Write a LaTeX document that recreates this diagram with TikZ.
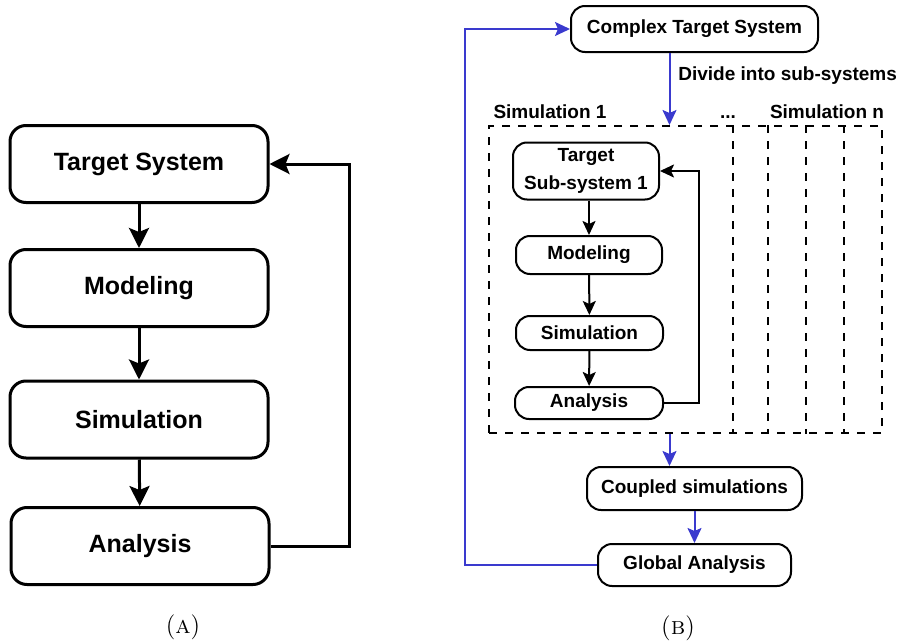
\documentclass[tikz,border=0pt]{standalone}
\usepackage{fontspec}
\newfontfamily\boxfont{Liberation Sans}
\usetikzlibrary{positioning, arrows.meta, calc}
\definecolor{flowblue}{RGB}{58,58,206}
\tikzset{
        big-step/.style={
            draw, rounded corners=8pt, line width=1.5pt, inner sep=0pt,
            minimum width=129pt, minimum height=38.5pt,
            font=\boxfont\bfseries\fontsize{12.5}{15}\selectfont
        },
        small-step/.style={
            draw, rounded corners=7pt, line width=1pt, inner sep=0pt, align=center,
            font=\boxfont\bfseries\fontsize{9.5}{14}\selectfont
        },
        plain-label/.style={inner sep=0pt, font=\boxfont\bfseries\fontsize{9.5}{12}\selectfont},
        big-flow/.style={line width=1.5pt, -{Stealth[length=10pt, width=10pt, inset=2pt]}},
        small-flow/.style={line width=1pt, -{Stealth[length=7pt, width=6.5pt, inset=1.5pt]}},
        blue-flow/.style={flowblue, line width=1pt, -{Stealth[length=7.5pt, width=7pt, inset=1.5pt]}},
        sim-frame/.style={draw, line width=1pt, dash pattern=on 4pt off 4pt, inner sep=0pt},
}
\begin{document}
\begin{tikzpicture}[x=0.5pt, y=-0.5pt]
        \useasboundingbox (0,0) rectangle (902,643);

        % (A) SINGLE SIMULATION LOOP
        \node[big-step] (TGT) at (139,164)   {Target System};
        \node[big-step] (MOD) at (139,288)   {Modeling};
        \node[big-step] (SIM) at (139,419.5) {Simulation};
        \node[big-step] (ANA) at (140,546)   {Analysis};
        \coordinate     (FBA) at (349,0);
        \node[]         (CAPA) at (183,627)  {\fontsize{12.5}{14}\selectfont (\textsc{a})};

        \draw [big-flow] (TGT) -- (MOD);
        \draw [big-flow] (MOD) -- (SIM);
        \draw [big-flow] (SIM) -- (ANA);
        \draw [big-flow] (ANA.east) -- (ANA.east -| FBA) |- (TGT.east);

        % (B) COUPLED SIMULATIONS
        \node[small-step, minimum width=123.5pt, minimum height=23pt] (CTS) at (694.5,29)  {Complex Target System};
        \node[plain-label, anchor=base west] (DIV) at (678,80)   {Divide into sub-systems};
        \node[sim-frame, minimum width=196.5pt, minimum height=153.5pt] (FRAME) at (685.5,279.5) {};
        \node[plain-label, anchor=base] (SIM1) at (550,118)     {Simulation 1};
        \node[plain-label, anchor=base] (DOTS) at (728,118)     {...};
        \node[plain-label, anchor=base] (SIMN) at (827,118)     {Simulation n};

        \node[small-step, minimum width=73pt, minimum height=28.5pt] (TSS)  at (586,171)   {Target\\Sub-system 1};
        \node[small-step, minimum width=73pt, minimum height=19pt]   (SMOD) at (589,255)   {Modeling};
        \node[small-step, minimum width=73.5pt, minimum height=17pt] (SSIM) at (589.5,333) {Simulation};
        \node[small-step, minimum width=74pt, minimum height=16pt]   (SANA) at (589,403)   {Analysis};
        \coordinate (FBB) at (699,0);

        \node[small-step, minimum width=107.5pt, minimum height=21.5pt] (CPL) at (694.5,488.5) {Coupled simulations};
        \node[small-step, minimum width=96.5pt, minimum height=21pt]    (GLB) at (694.5,565)   {Global Analysis};
        \coordinate (SPLIT) at (669.5,0);
        \coordinate (LOOP)  at (465,0);
        \node[]         (CAPB) at (678,628)  {\fontsize{12.5}{14}\selectfont (\textsc{b})};

        % OTHER SUB-SYSTEM COLUMNS
        \foreach \x in {733,768,806,844}
            \draw [line width=1pt, dash pattern=on 4pt off 4pt] (FRAME.north -| \x,0) -- (FRAME.south -| \x,0);

        % CONNECT SUB-SYSTEM LOOP
        \draw [small-flow] (TSS.south -| SMOD) -- (SMOD);
        \draw [small-flow] (SMOD) -- (SSIM);
        \draw [small-flow] (SSIM) -- (SANA);
        \draw [small-flow] (SANA.east) -- (SANA.east -| FBB) |- (TSS.east);

        % CONNECT GLOBAL LOOP
        \draw [blue-flow] (CTS.south -| SPLIT) -- (FRAME.north -| SPLIT);
        \draw [blue-flow] (FRAME.south -| SPLIT) -- (CPL.north -| SPLIT);
        \draw [blue-flow] (CPL) -- (GLB);
        \draw [blue-flow] (GLB.west) -- (GLB.west -| LOOP) |- (CTS.west);

\end{tikzpicture}
\end{document}
